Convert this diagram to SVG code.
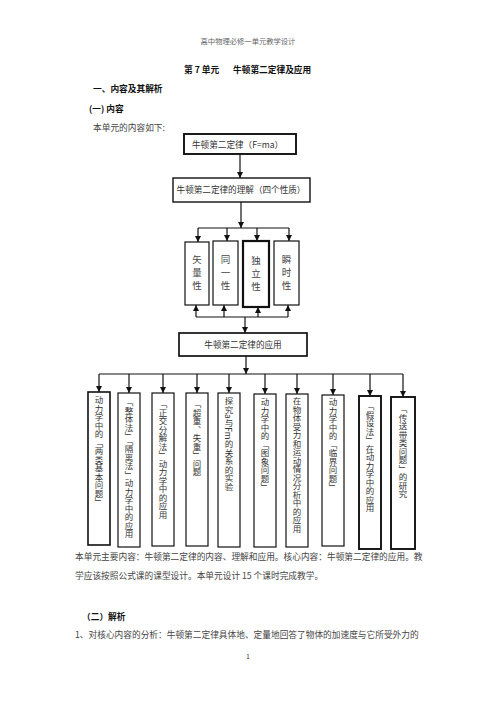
<svg xmlns="http://www.w3.org/2000/svg" width="496" height="702" viewBox="0 0 496 702">
<defs>
<marker id="ah" markerUnits="userSpaceOnUse" markerWidth="6" markerHeight="6" refX="6" refY="3" orient="auto">
<path d="M0,0 L6,3 L0,6 z" fill="#111"/>
</marker>
<style>
text{font-family:"Noto Sans CJK SC","Noto Sans",sans-serif;fill:#2a2a2a}
.b{font-weight:bold;fill:#111}
.p{font-size:8.7px}
.box{fill:#fff;stroke:#111;stroke-width:1.2}
.thick{stroke-width:1.9}
.lbl{font-size:8.6px;text-anchor:middle;fill:#333}
.ch{font-size:9.5px;text-anchor:middle;fill:#444}
.v{font-size:8.5px;writing-mode:vertical-rl;fill:#333}
.ln{fill:none;stroke:#111;stroke-width:1.2}
.ar{fill:none;stroke:#111;stroke-width:1.2;marker-end:url(#ah)}
</style>
</defs>
<rect width="496" height="702" fill="#fff"/>
<text x="248" y="44" style="font-size:7.3px;text-anchor:middle;fill:#666">高中物理必修一单元教学设计</text>
<text x="184" y="73" class="b p">第 7 单元</text>
<text x="233" y="73" class="b p">牛顿第二定律及应用</text>
<text x="93" y="92" class="b p">一、内容及其解析</text>
<text x="89" y="112" class="b p">(一) 内容</text>
<text x="93" y="131" class="p" style="fill:#444">本单元的内容如下:</text>

<g id="connectors">
<line x1="240" y1="154" x2="240" y2="178" class="ar"/>
<line x1="241" y1="202" x2="241" y2="228" class="ar"/>
<line x1="198" y1="228" x2="289" y2="228" class="ln"/>
<line x1="198" y1="228" x2="198" y2="242" class="ar"/>
<line x1="227" y1="228" x2="227" y2="241" class="ar"/>
<line x1="257" y1="228" x2="257" y2="241" class="ar"/>
<line x1="289" y1="228" x2="289" y2="241" class="ar"/>
<line x1="196" y1="317" x2="288" y2="317" class="ln"/>
<line x1="196" y1="317" x2="196" y2="305" class="ar"/>
<line x1="224" y1="317" x2="224" y2="305" class="ar"/>
<line x1="258" y1="317" x2="258" y2="307" class="ar"/>
<line x1="288" y1="317" x2="288" y2="305" class="ar"/>
<line x1="245" y1="317" x2="245" y2="333" class="ar"/>
<line x1="246" y1="356" x2="246" y2="374" class="ar"/>
<line x1="99" y1="374" x2="403" y2="374" class="ln"/>
<line x1="99" y1="374" x2="99" y2="392" class="ar"/>
<line x1="129" y1="374" x2="129" y2="393" class="ar"/>
<line x1="163" y1="374" x2="163" y2="393" class="ar"/>
<line x1="197" y1="374" x2="197" y2="393" class="ar"/>
<line x1="229" y1="374" x2="229" y2="393" class="ar"/>
<line x1="265" y1="374" x2="265" y2="394" class="ar"/>
<line x1="297" y1="374" x2="297" y2="394" class="ar"/>
<line x1="333" y1="374" x2="333" y2="395" class="ar"/>
<line x1="370" y1="374" x2="370" y2="396" class="ar"/>
<line x1="403" y1="374" x2="403" y2="397" class="ar"/>
</g>

<g id="n-law">
<rect x="184" y="134" width="112" height="20" class="box thick"/>
<text x="192" y="147.5" style="font-size:8.6px;fill:#333">牛顿第二定律（F=ma）</text>
</g>
<g id="n-understand">
<rect x="173" y="178" width="137" height="24" class="box" style="stroke-width:1.4"/>
<text x="241" y="193" class="lbl">牛顿第二定律的理解（四个性质）</text>
</g>
<g id="n-vector">
<rect x="185" y="242" width="24" height="63" class="box"/>
<text x="197" y="263" class="ch">矢</text><text x="197" y="276" class="ch">量</text><text x="197" y="289" class="ch">性</text>
</g>
<g id="n-same">
<rect x="213" y="241" width="25" height="64" class="box"/>
<text x="225.5" y="263" class="ch">同</text><text x="225.5" y="276" class="ch">一</text><text x="225.5" y="289" class="ch">性</text>
</g>
<g id="n-indep">
<rect x="243" y="241" width="26" height="66" class="box" style="stroke-width:2.2"/>
<text x="256" y="264" class="ch">独</text><text x="256" y="277" class="ch">立</text><text x="256" y="290" class="ch">性</text>
</g>
<g id="n-instant">
<rect x="274" y="241" width="25" height="64" class="box"/>
<text x="286.5" y="263" class="ch">瞬</text><text x="286.5" y="276" class="ch">时</text><text x="286.5" y="289" class="ch">性</text>
</g>
<g id="n-apply">
<rect x="179" y="333" width="128" height="23" class="box" style="stroke-width:1.7"/>
<text x="243" y="347.5" class="lbl">牛顿第二定律的应用</text>
</g>

<g id="a1"><rect x="88" y="392" width="22" height="153" class="box" style="stroke-width:1.6"/><text x="99" y="396" class="v">动力学中的「两类基本问题」</text></g>
<g id="a2"><rect x="118" y="393" width="22" height="154" class="box"/><text x="129" y="398" class="v">「整体法」「隔离法」动力学中的应用</text></g>
<g id="a3"><rect x="152" y="393" width="22" height="153" class="box"/><text x="163" y="400" class="v">「正交分解法」动力学中的应用</text></g>
<g id="a4"><rect x="186" y="393" width="22" height="153" class="box"/><text x="197" y="400" class="v">「超重、失重」问题</text></g>
<g id="a5"><rect x="218" y="393" width="22" height="154" class="box"/><text x="229" y="397" class="v">探究a与Fm的关系的实验</text></g>
<g id="a6"><rect x="254" y="394" width="22" height="153" class="box"/><text x="265" y="398" class="v">动力学中的「图象问题」</text></g>
<g id="a7"><rect x="286" y="394" width="22" height="153" class="box"/><text x="297" y="397" class="v">在物体受力和运动情况分析中的应用</text></g>
<g id="a8"><rect x="322" y="395" width="22" height="151" class="box"/><text x="333" y="398" class="v">动力学中的「临界问题」</text></g>
<g id="a9"><rect x="359" y="396" width="22" height="153" class="box thick"/><text x="370" y="402" class="v">「假设法」在动力学中的应用</text></g>
<g id="a10"><rect x="391" y="397" width="24" height="152" class="box thick"/><text x="403" y="405" class="v">「传送带类问题」的研究</text></g>

<text x="75" y="560" class="p" style="fill:#444">本单元主要内容：牛顿第二定律的内容、理解和应用。核心内容：牛顿第二定律的应用。教</text>
<text x="75" y="579" class="p" style="fill:#444">学应该按照公式课的课型设计。本单元设计 15 个课时完成教学。</text>
<text x="82" y="620" class="b p">（二）解析</text>
<text x="75" y="638" class="p" style="fill:#444">1、对核心内容的分析：牛顿第二定律具体地、定量地回答了物体的加速度与它所受外力的</text>
<text x="248" y="659" style="font-size:7px;text-anchor:middle;fill:#444">1</text>
</svg>
